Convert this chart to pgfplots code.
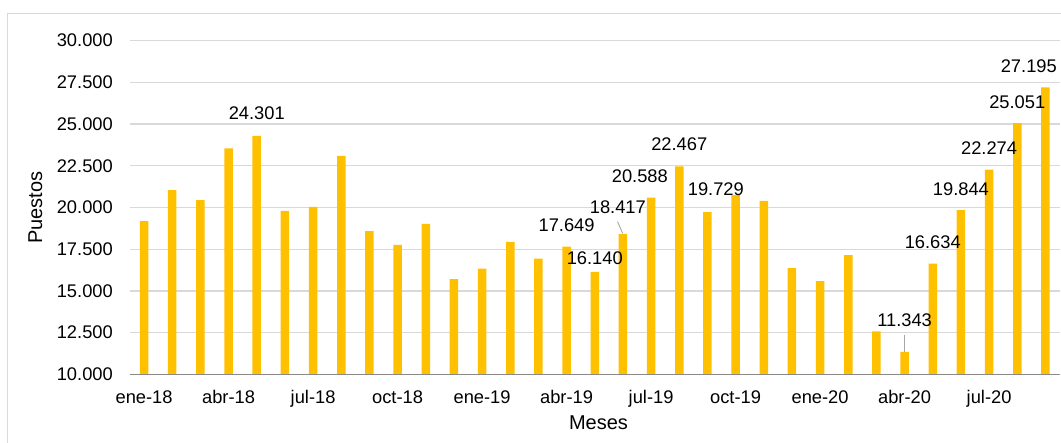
\documentclass[border=0pt]{standalone}
\usepackage{fontspec}
\setmainfont{Liberation Sans}
\usepackage{pgfplots}
\pgfplotsset{compat=1.18}
\definecolor{bargold}{HTML}{FFC000}
\definecolor{gridgray}{HTML}{D9D9D9}
\definecolor{axisgray}{HTML}{898989}
\definecolor{leadergray}{HTML}{A6A6A6}
\newcommand{\tickfont}{\fontsize{18.3}{20}\selectfont}
\newcommand{\titlefont}{\fontsize{20}{22}\selectfont}
\begin{document}
\begin{tikzpicture}
\useasboundingbox (-130pt,-68.7pt) rectangle (931pt,374.3pt);
% chart area border (left and top edges visible)
\draw[gridgray, line width=1pt] (-122.5pt,-80pt) -- (-122.5pt,360.6pt) -- (940pt,360.6pt);
\begin{axis}[
  at={(0pt,0pt)}, anchor=south west,
  scale only axis,
  width=929.5pt, height=333.6pt,
  xmin=0.5, xmax=33.5,
  ymin=10000, ymax=30000,
  ybar, bar width=8.5pt,
  axis line style={draw=none},
  ytick={10000,12500,...,30000},
  scaled y ticks=false,
  ymajorgrids,
  grid style={gridgray, line width=1.3pt},
  major tick length=0pt,
  xtick={1,4,7,10,13,16,19,22,25,28,31},
  xticklabels={ene-18,abr-18,jul-18,oct-18,ene-19,abr-19,jul-19,oct-19,ene-20,abr-20,jul-20},
  extra x ticks={0.5,3.5,6.5,9.5,12.5,15.5,18.5,21.5,24.5,27.5,30.5,33.5},
  extra x tick labels={},
  extra x tick style={major tick length=5pt, tick align=outside, tick style={axisgray, line width=1.3pt}, xmajorgrids=false},
  tick style={draw=none},
  /pgf/number format/.cd, fixed, precision=0, 1000 sep={.}, assume math mode=true,
  /pgfplots/.cd,
  ticklabel style={font=\tickfont, text=black},
  yticklabel style={anchor=east, inner sep=0pt, xshift=-17pt},
  xticklabel style={anchor=base, inner sep=0pt, yshift=-29pt},
  xlabel={Meses}, ylabel={Puestos},
  every axis x label/.style={at={(axis description cs:0.504,0)}, anchor=base, yshift=-55.7pt, font=\titlefont, inner sep=0pt},
  every axis y label/.style={at={(axis description cs:-0.1019,0.5)}, anchor=center, rotate=90, font=\titlefont, inner sep=0pt},
  clip=true,
]
\addplot[fill=bargold, draw=none] coordinates {
(1,19180) (2,21040) (3,20440) (4,23540) (5,24301) (6,19800) (7,20040) (8,23100)
(9,18580) (10,17760) (11,19020) (12,15700) (13,16340) (14,17940) (15,16940) (16,17649)
(17,16140) (18,18417) (19,20588) (20,22467) (21,19729) (22,20740) (23,20400) (24,16360)
(25,15580) (26,17140) (27,12580) (28,11343) (29,16634) (30,19844) (31,22274) (32,25051)
(33,27195)
};
\draw[axisgray, line width=1.3pt] (rel axis cs:0,0) -- (rel axis cs:1,0);
% leader lines
\draw[leadergray, line width=0.9pt] (axis cs:17.81,19148) -- (axis cs:17.99,18453);
\draw[leadergray, line width=0.9pt] (axis cs:27.99,12356) -- (axis cs:27.99,11337);
% data labels
\begin{scope}[every node/.style={font=\tickfont, inner sep=0pt, anchor=center}]
\node at (axis cs:5,25665) {24.301};
\node at (axis cs:16,18951) {17.649};
\node at (axis cs:17,16972) {16.140};
\node at (axis cs:17.82,20030) {18.417};
\node at (axis cs:18.6,21888) {20.588};
\node at (axis cs:20,23807) {22.467};
\node at (axis cs:21.3,21109) {19.729};
\node at (axis cs:28,13255) {11.343};
\node at (axis cs:29,17931) {16.634};
\node at (axis cs:30,21109) {19.844};
\node at (axis cs:31,23567) {22.274};
\node at (axis cs:32,26324) {25.051};
\node at (axis cs:32.41,28483) {27.195};
\end{scope}
\end{axis}
\end{tikzpicture}
\end{document}
